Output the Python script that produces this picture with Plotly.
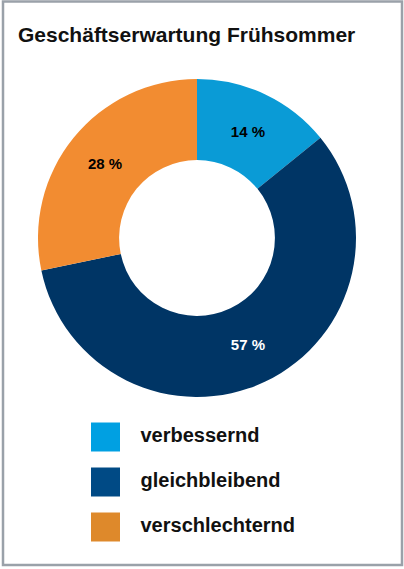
import plotly.graph_objects as go

title = "Geschäftserwartung Frühsommer"
categories = ["verbessernd", "gleichbleibend", "verschlechternd"]
values = [14, 57, 28]
pie_colors = ["#0a9bd6", "#003565", "#f28c31"]
legend_colors = ["#00a0e2", "#004a85", "#de892b"]
label_colors = ["#000000", "#ffffff", "#000000"]

W, H = 404, 569
cx, cy, r = 197, 238, 159

fig = go.Figure()
fig.add_trace(go.Pie(
    labels=categories, values=values,
    text=[f"{v} %" for v in values],
    textinfo="text", textposition="inside",
    insidetextorientation="horizontal",
    insidetextfont=dict(color=label_colors, size=15, family="Liberation Sans", weight="bold"),
    marker=dict(colors=pie_colors, line=dict(width=0)),
    hole=0.49, sort=False, direction="clockwise", rotation=0,
    showlegend=False, hoverinfo="skip",
    domain=dict(x=[(cx - r) / W, (cx + r) / W], y=[(H - cy - r) / H, (H - cy + r) / H]),
))

# custom legend: swatches + labels
fig.add_trace(go.Scatter(
    x=[0] * len(categories), y=categories, mode="markers",
    marker=dict(symbol="square", size=29, color=legend_colors, line=dict(width=0)),
    xaxis="x2", yaxis="y2", showlegend=False, hoverinfo="skip",
))
fig.add_trace(go.Scatter(
    x=[35] * len(categories), y=categories, mode="text", text=categories,
    textposition="middle right",
    textfont=dict(size=20, color="#111111", family="Liberation Sans", weight="bold"),
    xaxis="x2", yaxis="y2", showlegend=False, hoverinfo="skip",
))

fig.update_layout(
    width=W, height=H, margin=dict(l=0, r=0, t=0, b=0),
    paper_bgcolor="white", plot_bgcolor="rgba(0,0,0,0)",
    title=dict(text=title, x=18 / W, xanchor="left", y=1 - 35 / H, yanchor="middle",
               font=dict(size=21, color="#111111", family="Liberation Sans", weight="bold")),
    xaxis2=dict(domain=[0, 1], range=[-105.5, W - 105.5], visible=False, fixedrange=True),
    yaxis2=dict(domain=[0, 1], range=[2 + 42 / 45, -437 / 45], visible=False,
                type="category", categoryorder="array", categoryarray=categories, fixedrange=True),
    shapes=[dict(type="rect", xref="paper", yref="paper",
                 x0=3 / W, x1=402 / W, y0=1 - 565 / H, y1=1 - 1.5 / H,
                 line=dict(color="#9aa1a9", width=2.5))],
)

fig.write_html("out.html", config={"displayModeBar": False},
               post_script="document.body.style.margin='0';document.body.style.overflow='hidden';")
